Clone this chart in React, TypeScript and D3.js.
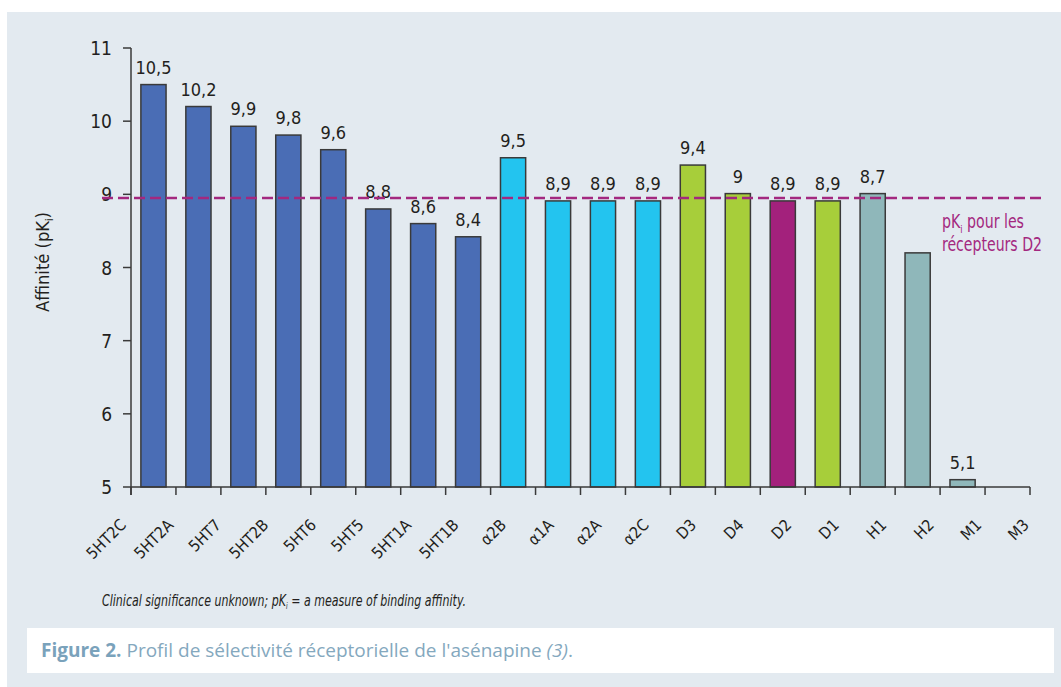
import { useEffect, useRef } from "react"
import * as d3 from "d3"

const categories = ["5HT2C", "5HT2A", "5HT7", "5HT2B", "5HT6", "5HT5", "5HT1A", "5HT1B", "α2B", "α1A", "α2A", "α2C", "D3", "D4", "D2", "D1", "H1", "H2", "M1", "M3"]
const affinity = [10.5, 10.2, 9.93, 9.81, 9.61, 8.8, 8.6, 8.42, 9.5, 8.91, 8.91, 8.91, 9.4, 9.01, 8.91, 8.91, 9.01, 8.2, 5.1, null]
const valueLabels = ["10,5", "10,2", "9,9", "9,8", "9,6", "8,8", "8,6", "8,4", "9,5", "8,9", "8,9", "8,9", "9,4", "9", "8,9", "8,9", "8,7", "", "5,1", ""]
const families = ["5HT", "5HT", "5HT", "5HT", "5HT", "5HT", "5HT", "5HT", "alpha", "alpha", "alpha", "alpha", "D", "D", "D2", "D", "HM", "HM", "HM", "HM"]
const yTicks = [5, 6, 7, 8, 9, 10, 11]
const d2Reference = 8.95

const familyColor: Record<string, string> = {
  "5HT": "#4a6db5",
  alpha: "#23c4ef",
  D: "#a7ce3a",
  D2: "#a3217c",
  HM: "#8fb7ba",
}

const FONT = "'DejaVu Sans Condensed', 'Liberation Sans', sans-serif"

const App = () => {
  const svgRef = useRef<SVGSVGElement>(null)

  useEffect(() => {
    if (!svgRef.current) return
    const svg = d3.select(svgRef.current)
    svg.selectAll("*").remove()

    const width = 1061
    const height = 687
    const left = 131
    const right = 1030
    const top = 48
    const bottom = 487

    // background panel + caption box
    svg.append("rect").attr("width", width).attr("height", height).attr("fill", "#ffffff")
    svg.append("rect").attr("x", 7).attr("y", 12).attr("width", 1054).attr("height", 675).attr("fill", "#e3eaf0")
    svg.append("rect").attr("x", 27).attr("y", 628).attr("width", 1027).attr("height", 45).attr("fill", "#ffffff")

    const xScale = d3.scaleBand().domain(categories).range([left, right]).paddingInner(0.44).paddingOuter(0.22)
    const labelScale = d3.scalePoint().domain(categories).range([127, 1030])
    const yScale = d3.scaleLinear().domain([5, 11]).range([bottom, top])

    const g = svg.append("g").style("font-family", FONT).attr("fill", "#231f20")

    // bars
    categories.forEach((c, i) => {
      const v = affinity[i]
      if (v == null) return
      g.append("rect")
        .attr("x", xScale(c) || 0)
        .attr("y", yScale(v))
        .attr("width", xScale.bandwidth())
        .attr("height", yScale(5) - yScale(v))
        .attr("fill", familyColor[families[i]])
        .attr("stroke", "#3a3a3a")
        .attr("stroke-width", 1.5)
    })

    // value labels
    categories.forEach((c, i) => {
      const v = affinity[i]
      if (v == null || !valueLabels[i]) return
      g.append("text")
        .attr("x", (xScale(c) || 0) + xScale.bandwidth() / 2)
        .attr("y", yScale(v) - 11)
        .attr("text-anchor", "middle")
        .attr("font-size", 18)
        .text(valueLabels[i])
    })

    // y axis
    const axisColor = "#3a3a3a"
    g.append("line").attr("x1", left).attr("x2", left).attr("y1", top).attr("y2", bottom + 8).attr("stroke", axisColor).attr("stroke-width", 1.5)
    yTicks.forEach((t) => {
      g.append("line").attr("x1", left - 8).attr("x2", left).attr("y1", yScale(t)).attr("y2", yScale(t)).attr("stroke", axisColor).attr("stroke-width", 1.5)
      g.append("text")
        .attr("x", 112)
        .attr("y", yScale(t) + 7)
        .attr("text-anchor", "end")
        .attr("font-size", 19)
        .text(t)
    })

    // x axis
    g.append("line").attr("x1", left).attr("x2", right).attr("y1", bottom).attr("y2", bottom).attr("stroke", axisColor).attr("stroke-width", 1.5)
    d3.range(categories.length + 1).forEach((i) => {
      const x = left + xScale.step() * i
      g.append("line").attr("x1", x).attr("x2", x).attr("y1", bottom).attr("y2", bottom + 8).attr("stroke", axisColor).attr("stroke-width", 1.5)
    })
    categories.forEach((c) => {
      const x = labelScale(c) || 0
      g.append("text")
        .attr("transform", `translate(${x},526) rotate(-45)`)
        .attr("text-anchor", "end")
        .attr("font-size", 16)
        .text(c)
    })

    // y axis title
    const yt = g.append("text")
      .attr("transform", "translate(49,262) rotate(-90)")
      .attr("text-anchor", "middle")
      .attr("font-size", 18)
      .attr("textLength", 100)
      .attr("lengthAdjust", "spacingAndGlyphs")
    yt.append("tspan").text("Affinité (pK")
    yt.append("tspan").attr("font-size", 10).attr("dy", 4).text("i")
    yt.append("tspan").attr("dy", -4).text(")")

    // D2 reference line
    g.append("line")
      .attr("x1", 102)
      .attr("x2", 1043)
      .attr("y1", yScale(d2Reference))
      .attr("y2", yScale(d2Reference))
      .attr("stroke", "#a3287f")
      .attr("stroke-width", 2.5)
      .attr("stroke-dasharray", "11,5")

    const ann1 = g.append("text").attr("fill", "#a3287f").attr("font-size", 19)
      .attr("x", 942).attr("y", 228)
      .attr("textLength", 82).attr("lengthAdjust", "spacingAndGlyphs")
    ann1.append("tspan").text("pK")
    ann1.append("tspan").attr("font-size", 11).attr("dy", 5).text("i")
    ann1.append("tspan").attr("dy", -5).text(" pour les")
    g.append("text").attr("fill", "#a3287f").attr("font-size", 19)
      .attr("x", 942).attr("y", 251)
      .attr("textLength", 100).attr("lengthAdjust", "spacingAndGlyphs")
      .text("récepteurs D2")

    // footnote
    const fn = g.append("text").attr("x", 102).attr("y", 606).attr("font-size", 15).attr("font-style", "italic")
      .attr("textLength", 364).attr("lengthAdjust", "spacingAndGlyphs")
    fn.append("tspan").text("Clinical significance unknown; pK")
    fn.append("tspan").attr("font-size", 8).attr("dy", 3).text("i")
    fn.append("tspan").attr("dy", -3).text(" = a measure of binding affinity.")

    // figure caption
    const cap = svg.append("text")
      .attr("x", 41)
      .attr("y", 657)
      .attr("font-size", 19)
      .style("font-family", "'Open Sans', 'Noto Sans', sans-serif")
      .attr("fill", "#84a8be")
    cap.append("tspan").attr("font-weight", "bold").attr("fill", "#7aa2bb").text("Figure 2.")
    cap.append("tspan").text(" Profil de sélectivité réceptorielle de l'asénapine ")
    cap.append("tspan").attr("font-style", "italic").text("(3)")
    cap.append("tspan").text(".")
  }, [])

  return (
    <svg
      ref={svgRef}
      width={1061}
      height={687}
      style={{ position: "absolute", left: 0, top: 0, display: "block" }}
    ></svg>
  )
}

export default App
